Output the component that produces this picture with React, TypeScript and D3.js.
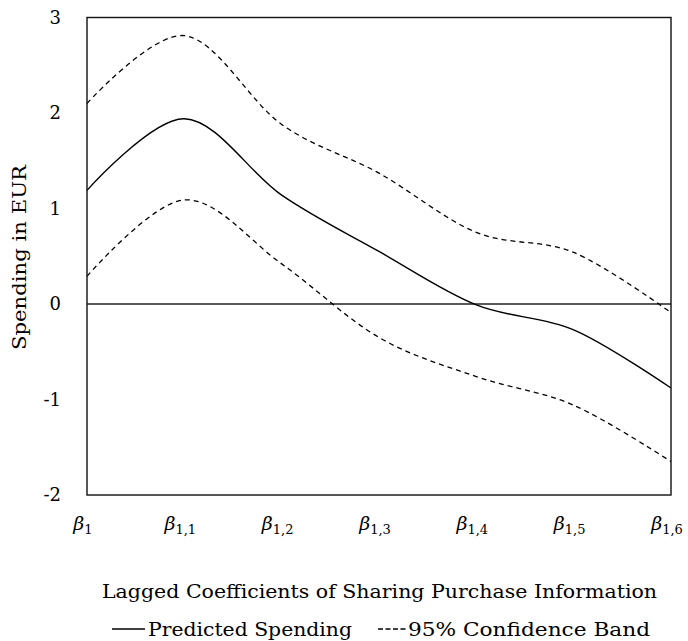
import React from "react";
import * as d3 from "d3";

const categories = ["1", "1,1", "1,2", "1,3", "1,4", "1,5", "1,6"];
const predicted = [1.19, 1.94, 1.14, 0.55, -0.01, -0.27, -0.88];
const upperBand = [2.1, 2.81, 1.88, 1.37, 0.75, 0.54, -0.09];
const lowerBand = [0.29, 1.09, 0.42, -0.35, -0.76, -1.06, -1.65];
const yTicks = [3, 2, 1, 0, -1, -2];

const W = 688;
const H = 641;
const FONT = "DejaVu Serif";

export default function App() {
  const left = 87, right = 671, top = 17.5, bottom = 495;
  const x = d3.scalePoint<string>().domain(categories).range([left, right]);
  const y = d3.scaleLinear().domain([-2, 3]).range([bottom, top]);
  const line = d3
    .line<number>()
    .x((_, i) => x(categories[i]) as number)
    .y((d) => y(d))
    .curve(d3.curveCardinal.tension(0));

  return (
    <svg width={W} height={H} style={{ position: "absolute", left: 0, top: 0 }} fontFamily={FONT}>
      <rect x={0} y={0} width={W} height={H} fill="#fff" />
      <line x1={left} x2={right} y1={y(0)} y2={y(0)} stroke="#222" strokeWidth={1.3} />
      <path d={line(upperBand) || ""} fill="none" stroke="#000" strokeWidth={1.3} strokeDasharray="5,4" />
      <path d={line(lowerBand) || ""} fill="none" stroke="#000" strokeWidth={1.3} strokeDasharray="5,4" />
      <path d={line(predicted) || ""} fill="none" stroke="#000" strokeWidth={1.4} />
      <rect x={left} y={top} width={right - left} height={bottom - top} fill="none" stroke="#111" strokeWidth={1.4} />
      {yTicks.map((t) => (
        <text key={t} x={61} y={y(t) + 6} textAnchor="end" fontSize={18} fill="#000">
          {t}
        </text>
      ))}
      {categories.map((c) => (
        <text key={c} x={(x(c) as number) - 4} y={530} textAnchor="middle" fontSize={19} fill="#000">
          <tspan fontStyle="italic">β</tspan>
          <tspan fontSize={13} dy={4}>{c}</tspan>
        </text>
      ))}
      <text x={102} y={598} fontSize={19} fill="#000" textLength={555} lengthAdjust="spacingAndGlyphs">
        Lagged Coefficients of Sharing Purchase Information
      </text>
      <text
        transform={`translate(26,${350}) rotate(-90)`}
        fontSize={18}
        fill="#000"
        textLength={185}
        lengthAdjust="spacingAndGlyphs"
      >
        Spending in EUR
      </text>
      <line x1={112} x2={145} y1={629} y2={629} stroke="#000" strokeWidth={1.4} />
      <text x={148} y={636} fontSize={19} fill="#000" textLength={204} lengthAdjust="spacingAndGlyphs">
        Predicted Spending
      </text>
      <line x1={378} x2={406} y1={629} y2={629} stroke="#000" strokeWidth={1.3} strokeDasharray="5,2.5" />
      <text x={408} y={636} fontSize={19} fill="#000" textLength={242} lengthAdjust="spacingAndGlyphs">
        95% Confidence Band
      </text>
    </svg>
  );
}
